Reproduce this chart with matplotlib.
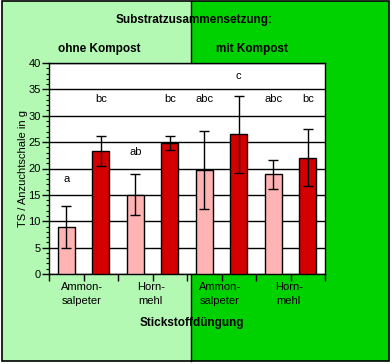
import numpy as np
import matplotlib
matplotlib.use("Agg")
import matplotlib.pyplot as plt
from matplotlib.patches import Rectangle

plt.rcParams['font.family'] = ['Liberation Sans', 'DejaVu Sans']

# data
categories = ['Ammon-\nsalpeter', 'Horn-\nmehl', 'Ammon-\nsalpeter', 'Horn-\nmehl']
means = [8.9, 23.3, 15.0, 24.8, 19.8, 26.5, 18.9, 22.0]
errors = [3.9, 2.8, 3.9, 1.35, 7.4, 7.3, 2.75, 5.4]
letters = ['a', 'bc', 'ab', 'bc', 'abc', 'c', 'abc', 'bc']
letter_y = [18.0, 33.2, 23.2, 33.2, 33.2, 37.5, 33.2, 33.2]

pink = '#FFB3B3'
red = '#D40000'
light_green = '#B3F8B3'
dark_green = '#00D200'

W, H = 392, 364
fig = plt.figure(figsize=(W / 100, H / 100), dpi=100)

def px(x, y):
    return x / W, 1 - y / H

# background panels
fig.patches.append(Rectangle(px(2, 361), 189 / W, 360 / H, transform=fig.transFigure,
                             facecolor=light_green, edgecolor='none', zorder=-2))
fig.patches.append(Rectangle(px(191, 361), 198 / W, 360 / H, transform=fig.transFigure,
                             facecolor=dark_green, edgecolor='none', zorder=-2))
fig.patches.append(Rectangle(px(2, 361), 387 / W, 360 / H, transform=fig.transFigure,
                             facecolor='none', edgecolor='black', lw=1.2, zorder=-1))
fig.lines.append(plt.Line2D([191 / W, 191 / W], [1 - 361 / H, 1 - 1 / H],
                            transform=fig.transFigure, color='black', lw=1, zorder=-1))

ax = fig.add_axes([49 / W, 1 - 274 / H, 276 / W, 211 / H])
ax.set_zorder(1)
ax.set_facecolor('white')

x = np.arange(len(means))
colors = [pink, red] * 4
ax.bar(x, means, width=0.5, color=colors, edgecolor='black', linewidth=1, zorder=3)
ax.errorbar(x, means, yerr=errors, fmt='none', ecolor='black', elinewidth=1,
            capsize=3.5, capthick=1, zorder=4)
for xi, t, yi in zip(x, letters, letter_y):
    ax.text(xi, yi, t, ha='center', va='center', fontsize=8, zorder=5)

ax.set_xlim(-0.5, 7.5)
ax.set_ylim(0, 40)
ax.set_yticks(np.arange(0, 41, 5))
ax.set_yticks(np.arange(0, 41, 1), minor=True)
ax.yaxis.grid(True, which='major', color='black', linewidth=1, zorder=1)
ax.set_axisbelow(True)
ax.tick_params(axis='y', which='major', direction='out', length=5, width=1, labelsize=8, pad=1)
ax.tick_params(axis='y', which='minor', direction='out', length=2.5, width=0.8)

ax.set_xticks(np.arange(-0.5, 8, 2))
ax.set_xticks(np.arange(0.5, 8, 2), minor=True)
ax.set_xticklabels([])
ax.tick_params(axis='x', which='both', direction='out', length=5, width=1)
for i, c in enumerate(categories):
    ax.text(2 * i + 0.45, -1.5, c, ha='center', va='top', fontsize=8, linespacing=1.5)

for s in ax.spines.values():
    s.set_linewidth(1)

ax.set_ylabel('TS / Anzuchtschale in g', fontsize=8, labelpad=0)

fig.text(194 / W, 1 - 20 / H, 'Substratzusammensetzung:', ha='center', va='center',
         fontsize=8.5, fontweight='bold')
fig.text(99 / W, 1 - 49 / H, 'ohne Kompost', ha='center', va='center',
         fontsize=8.5, fontweight='bold')
fig.text(252 / W, 1 - 49 / H, 'mit Kompost', ha='center', va='center',
         fontsize=8.5, fontweight='bold')
fig.text(192 / W, 1 - 323 / H, 'Stickstoffdüngung', ha='center', va='center',
         fontsize=8.5, fontweight='bold')

fig.savefig('out.png', dpi=100)
